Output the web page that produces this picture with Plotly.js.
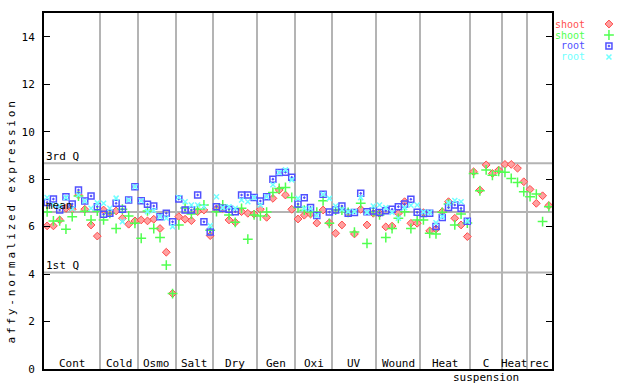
<!DOCTYPE html>
<html>
<head>
<meta charset="utf-8">
<script src="https://cdn.plot.ly/plotly-3.0.1.min.js"></script>
<style>
  html, body { margin: 0; padding: 0; background: #fff; }
  #chart { width: 640px; height: 384px; }
  .annotation[data-index="0"] text { letter-spacing: 2.8px; }
</style>
</head>
<body>
<div id="chart"></div>
<script>
// ---- data ----
const groupLabels = ["Cont","Cold","Osmo","Salt","Dry","Gen","Oxi","UV","Wound","Heat","C<br>suspension","Heat","rec"];
const groupSizes  = [9,6,6,6,7,6,6,7,7,8,5,4,4];

const shootA = [6.03,6.03,6.28,6.77,6.73,7.33,6.73,6.07,5.60,
                6.70,6.60,6.66,6.35,6.10,6.24,
                6.28,6.24,6.31,5.92,4.92,3.18,
                6.42,6.31,6.25,6.63,6.70,5.62,
                6.75,6.77,6.28,6.18,6.63,6.56,6.53,
                6.73,6.39,7.19,7.54,7.33,6.73,
                6.32,6.48,6.53,6.15,6.70,6.16,
                5.72,6.07,6.59,5.69,6.73,6.07,6.56,
                6.55,5.99,6.02,6.56,7.05,6.14,6.14,
                6.59,5.82,5.90,6.63,7.05,6.35,6.07,5.58,
                8.31,7.54,8.60,8.24,8.38,
                8.62,8.62,8.46,7.89,
                7.57,6.98,7.30,6.89];
const shootB = [6.62,6.24,6.24,5.89,6.42,7.29,6.65,6.28,6.65,
                6.28,6.56,5.92,6.73,6.45,6.14,
                5.51,6.66,5.92,5.54,4.38,3.18,
                6.07,6.78,6.53,6.73,6.91,5.85,
                6.63,6.91,6.49,6.18,6.77,5.47,6.49,
                6.45,6.61,7.44,7.61,7.65,7.23,
                6.80,6.69,6.62,6.61,7.09,6.14,
                6.70,6.70,6.60,5.77,6.98,5.29,6.63,
                6.49,5.54,5.92,6.35,6.63,5.92,6.28,
                6.28,5.72,5.69,6.60,6.95,6.07,6.53,6.15,
                8.24,7.51,8.39,8.16,8.33,
                8.29,8.03,7.86,7.47,
                7.26,7.37,6.21,6.84];
const rootA  = [7.02,7.16,6.70,7.26,6.95,7.54,7.08,7.29,6.84,
                6.52,6.56,6.98,6.73,7.12,7.68,
                7.09,6.94,6.87,6.42,6.56,6.20,
                7.16,6.70,6.70,7.33,6.20,5.77,
                6.84,6.77,6.73,6.63,7.33,7.33,7.23,
                7.08,7.26,8.00,8.28,8.29,8.08,
                6.95,7.22,6.81,6.47,7.36,6.61,
                6.70,6.87,6.56,6.59,7.40,6.63,6.66,
                6.59,6.67,6.73,6.84,6.95,7.15,6.60,
                6.55,6.56,6.00,6.38,6.81,6.91,6.77,6.23];
const rootB  = [7.23,6.91,6.87,7.22,6.75,7.33,7.08,6.77,7.00,
                6.98,6.77,7.20,6.21,7.12,7.68,
                7.09,6.63,6.68,6.42,6.35,6.00,
                7.23,7.05,6.91,6.91,6.84,6.04,
                7.26,6.80,6.84,6.77,7.12,7.05,7.23,
                6.91,7.26,7.76,8.28,8.39,7.97,
                7.19,6.76,6.75,6.47,7.36,7.19,
                6.87,6.72,6.63,6.63,7.22,6.60,6.87,
                6.91,6.80,6.60,6.35,6.80,6.90,6.91,
                6.62,6.60,6.16,6.42,7.00,7.10,7.05,6.23];

const statLabels = ["3rd Q","mean","1st Q"];
const statValues = [8.67, 6.61, 4.07];

const legendNames  = ["shoot","shoot","root","root"];
const legendColors = ["#ff5050","#50ff50","#5050ff","#70ffff"];

// ---- build ----
const FONT = "DejaVu Sans Mono, monospace";
const idx = arr => arr.map((_, i) => i);

const boundaries = [];
const centers = [];
let cum = 0;
groupSizes.forEach((n, g) => {
  centers.push(cum + (n - 1) / 2);
  cum += n;
  if (g < groupSizes.length - 1) boundaries.push(cum - 0.5);
});
const nSamples = cum;

const seriesStyles = [
  {symbol: "diamond", size: 6, color: "#ffa0a0", line: {color: "#ff4848", width: 1}},
  {symbol: "cross-thin-open", size: 7, color: "#50ff50", line: {color: "#50ff50", width: 1.5}},
  {symbol: "square-open-dot", size: 6, color: "#5050ff", line: {color: "#5050ff", width: 1.5}},
  {symbol: "x-thin-open", size: 5, color: "#70ffff", line: {color: "#70ffff", width: 1.5}}
];
const seriesData = [shootA, shootB, rootA, rootB];

const traces = seriesData.map((ys, k) => ({
  type: "scatter", mode: "markers",
  x: idx(ys), y: ys,
  marker: seriesStyles[k],
  xaxis: "x", yaxis: "y",
  hoverinfo: "skip", showlegend: false
}));

// legend symbols (drawn on an overlay axis pair at the right)
legendNames.forEach((name, k) => {
  traces.push({
    type: "scatter", mode: "markers",
    x: [0.628], y: [k],
    marker: seriesStyles[k],
    xaxis: "x2", yaxis: "y2",
    hoverinfo: "skip", showlegend: false
  });
});

const annotations = [];
// y axis title (index 0, letter-spaced via CSS)
annotations.push({
  text: "affy-normalized expression", textangle: -90,
  xref: "paper", yref: "paper", x: -0.0554, y: 0.4157,
  xanchor: "center", yanchor: "middle", showarrow: false,
  font: {family: FONT, size: 11, color: "#000"}
});
// group labels
groupLabels.forEach((lab, g) => {
  annotations.push({
    text: lab, xref: "x", yref: "paper", x: centers[g], y: 0,
    xanchor: "center", yanchor: "top", yshift: 14, showarrow: false,
    font: {family: FONT, size: 11, color: "#000"}
  });
});
// stat labels
statLabels.forEach((lab, k) => {
  annotations.push({
    text: lab, xref: "x domain", yref: "y", x: 0, y: statValues[k],
    xanchor: "left", yanchor: "bottom", xshift: 0, yshift: -2, showarrow: false,
    font: {family: FONT, size: 11, color: "#000"}
  });
});
// legend texts
legendNames.forEach((name, k) => {
  annotations.push({
    text: name, xref: "paper", yref: "paper",
    x: (586 - 44) / 596, y: (369 - 24 - 11 * k) / 356,
    xanchor: "right", yanchor: "middle", showarrow: false, borderpad: 0,
    font: {family: FONT, size: 10, color: legendColors[k]}
  });
});

const shapes = statValues.map(v => ({
  type: "line", xref: "x domain", yref: "y", x0: 0, x1: 1, y0: v, y1: v,
  line: {color: "#b4b4b4", width: 2}, layer: "below"
}));

const layout = {
  width: 640, height: 384,
  margin: {l: 44, r: 0, t: 13, b: 15},
  paper_bgcolor: "#fff", plot_bgcolor: "#fff",
  font: {family: FONT, size: 11, color: "#000"},
  showlegend: false,
  xaxis: {
    domain: [0, 508 / 596], range: [-0.5, nSamples - 0.5],
    tickvals: boundaries, showticklabels: false, ticks: "",
    showgrid: true, gridcolor: "#b4b4b4", gridwidth: 2,
    showline: true, linecolor: "#000", linewidth: 2, mirror: true,
    zeroline: false, fixedrange: true
  },
  yaxis: {
    range: [0, 15], tickvals: [0,2,4,6,8,10,12,14],
    ticks: "inside", ticklen: 6, tickcolor: "#000", tickwidth: 1,
    ticklabelstandoff: 5,
    showline: true, linecolor: "#000", linewidth: 2, mirror: "ticks",
    showgrid: false, zeroline: false, fixedrange: true,
    tickfont: {family: FONT, size: 11, color: "#000"}
  },
  xaxis2: {domain: [0.86, 1], range: [0, 1], visible: false, anchor: "y2", fixedrange: true},
  yaxis2: {domain: [0, 1], range: [31.36, -1], visible: false, anchor: "x2", fixedrange: true},
  annotations: annotations,
  shapes: shapes
};

Plotly.newPlot("chart", traces, layout, {staticPlot: true, displayModeBar: false});
</script>
</body>
</html>
